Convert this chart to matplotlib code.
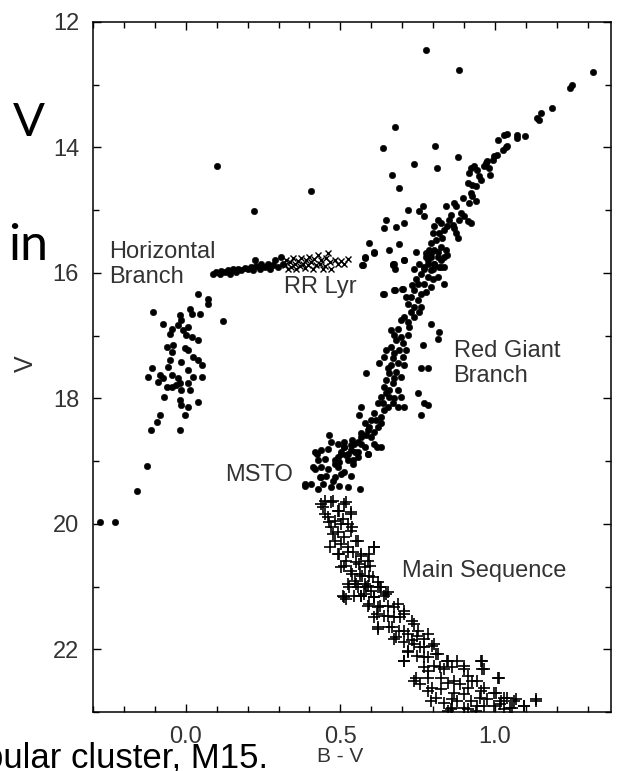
import numpy as np
import matplotlib
matplotlib.use('Agg')
import matplotlib.pyplot as plt
from matplotlib.ticker import MultipleLocator

plt.rcParams['font.family'] = ['Liberation Sans', 'DejaVu Sans']

# (B-V, V), grouped by region of the diagram
giant_upper = [
    (0.776, 12.45), (0.884, 12.76), (1.317, 12.80), (1.242, 13.05), (1.250, 13.00),
    (1.185, 13.37), (1.137, 13.53), (1.142, 13.56), (1.150, 13.45), (0.677, 13.67),
    (0.637, 14.01), (0.806, 13.97), (0.881, 14.16), (0.737, 14.26), (0.667, 14.44),
    (0.812, 14.33), (0.688, 14.65), (1.008, 13.88), (1.029, 13.80), (1.038, 13.79),
    (1.070, 13.80), (1.072, 13.85), (1.096, 13.81), (1.035, 14.00), (1.040, 13.98),
    (1.027, 14.04), (0.997, 14.14), (1.005, 14.12), (0.992, 14.20), (0.970, 14.25),
    (0.975, 14.22), (0.965, 14.30), (0.981, 14.33), (0.984, 14.44), (0.922, 14.33),
    (0.933, 14.30), (0.943, 14.36), (0.916, 14.41), (0.948, 14.46), (0.954, 14.52),
    (0.911, 14.57), (0.927, 14.60), (0.938, 14.62), (0.922, 14.73), (0.927, 14.78),
    (0.938, 14.86), (0.916, 14.89), (0.895, 14.81), (0.868, 14.89), (0.873, 14.94),
    (0.841, 14.94), (0.766, 14.94), (0.755, 15.02), (0.771, 15.10), (0.720, 15.00),
    (0.647, 15.15), (0.640, 15.29), (0.680, 15.27), (0.707, 15.20), (0.889, 15.05),
    (0.900, 15.10), (0.884, 15.15), (0.911, 15.18), (0.922, 15.21), (0.857, 15.08),
    (0.852, 15.15), (0.863, 15.24), (0.846, 15.26), (0.868, 15.29), (0.873, 15.37),
    (0.879, 15.45), (0.814, 15.15), (0.825, 15.21), (0.804, 15.26), (0.798, 15.37),
    (0.819, 15.37), (0.835, 15.31), (0.830, 15.45), (0.809, 15.47), (0.793, 15.53),
    (0.787, 15.63), (0.804, 15.63), (0.825, 15.58), (0.841, 15.63), (0.776, 15.69),
    (0.793, 15.74), (0.814, 15.74), (0.782, 15.85), (0.804, 15.85), (0.825, 15.79),
    (0.771, 15.93), (0.798, 15.93), (0.819, 15.90), (0.846, 15.71), (0.835, 15.90),
    (0.608, 15.67), (0.658, 15.63), (0.691, 15.54), (0.744, 15.66), (0.707, 15.80),
    (0.669, 15.87), (0.739, 15.93), (0.101, 14.30), (0.405, 14.70), (0.220, 15.01),
    (0.591, 15.53), (0.571, 15.87), (0.578, 15.77), (0.672, 15.85), (0.675, 15.93),
    (0.640, 16.33), (0.675, 16.27), (0.700, 16.25),
]

giant_lower = [
    (0.793, 15.69), (0.814, 15.66), (0.836, 15.74), (0.782, 15.79), (0.803, 15.85),
    (0.825, 15.90), (0.771, 15.90), (0.793, 15.95), (0.760, 16.01), (0.782, 16.06),
    (0.814, 16.06), (0.836, 16.17), (0.750, 16.17), (0.771, 16.17), (0.793, 16.22),
    (0.739, 16.27), (0.760, 16.33), (0.728, 16.38), (0.750, 16.43), (0.717, 16.49),
    (0.739, 16.54), (0.760, 16.54), (0.728, 16.62), (0.707, 16.70), (0.739, 16.70),
    (0.717, 16.78), (0.696, 16.75), (0.664, 16.91), (0.685, 16.89), (0.696, 17.02),
    (0.717, 16.99), (0.680, 17.07), (0.701, 17.12), (0.712, 17.23), (0.690, 17.23),
    (0.674, 17.28), (0.647, 17.23), (0.642, 17.34), (0.701, 17.34), (0.685, 17.44),
    (0.664, 17.47), (0.680, 17.58), (0.658, 17.60), (0.696, 17.66), (0.647, 17.71),
    (0.669, 17.76), (0.685, 17.87), (0.642, 17.82), (0.631, 17.98), (0.658, 17.98),
    (0.674, 18.00), (0.621, 18.08), (0.653, 18.14), (0.685, 18.14), (0.707, 18.14),
    (0.610, 18.24), (0.631, 18.30), (0.599, 18.35), (0.578, 18.40), (0.588, 18.51),
    (0.621, 18.46), (0.567, 18.62), (0.599, 18.62), (0.545, 18.72), (0.513, 18.78),
    (0.535, 18.83), (0.502, 18.88), (0.492, 18.94), (0.481, 19.04), (0.524, 18.99),
    (0.556, 18.94), (0.588, 18.88),
    (0.669, 15.85), (0.707, 15.79), (0.610, 15.69), (0.578, 15.74), (0.572, 15.87),
    (0.637, 16.33), (0.674, 16.27), (0.701, 16.25), (0.793, 16.81), (0.819, 16.94),
    (0.814, 17.05), (0.766, 17.15), (0.760, 17.52), (0.782, 17.52), (0.750, 17.92),
    (0.771, 18.08), (0.782, 18.11), (0.760, 18.27), (0.561, 18.27), (0.583, 17.60),
    (0.626, 17.44),
    (0.776, 15.74), (0.755, 15.85), (0.798, 16.09), (0.744, 16.09), (0.733, 16.19),
    (0.776, 16.30), (0.712, 16.38), (0.755, 16.62), (0.723, 16.86), (0.674, 16.99),
    (0.664, 17.18), (0.707, 17.47), (0.669, 17.36), (0.653, 17.52), (0.674, 17.68),
    (0.658, 17.87), (0.637, 18.08), (0.669, 18.08), (0.642, 18.19), (0.615, 18.35),
    (0.583, 18.59), (0.556, 18.70), (0.610, 18.54), (0.518, 18.91), (0.540, 19.04),
    (0.497, 19.02), (0.578, 18.78), (0.631, 18.40), (0.696, 17.98), (0.647, 17.92),
]

turnoff = [
    (0.470, 18.70), (0.492, 18.72), (0.513, 18.70), (0.535, 18.75), (0.567, 18.72),
    (0.610, 18.72), (0.632, 18.78), (0.438, 18.83), (0.417, 18.86), (0.460, 18.80),
    (0.503, 18.86), (0.524, 18.88), (0.556, 18.86), (0.589, 18.88), (0.427, 18.99),
    (0.449, 18.96), (0.481, 18.99), (0.438, 19.09), (0.417, 19.12), (0.460, 19.12),
    (0.492, 19.09), (0.513, 19.17), (0.535, 19.23), (0.433, 19.25), (0.454, 19.23),
    (0.481, 19.25), (0.443, 19.36), (0.406, 19.36), (0.384, 19.36), (0.470, 19.41),
    (0.497, 19.39), (0.524, 19.41), (0.562, 19.44), (0.427, 19.44), (0.540, 18.99),
    (0.546, 18.86), (0.385, 19.39), (0.462, 18.59), (0.423, 18.88), (0.410, 19.10),
    (0.436, 19.26), (0.475, 19.31), (0.501, 19.20), (0.513, 18.78), (0.539, 18.67),
    (0.565, 18.56), (0.591, 18.46), (0.617, 18.78), (0.565, 18.14),
]

blue_hb = [
    (0.040, 16.33), (0.072, 16.41), (0.072, 16.49), (-0.107, 16.62), (-0.073, 16.81),
    (-0.046, 16.89), (-0.019, 16.67), (-0.014, 16.75), (0.013, 16.57), (0.019, 16.65),
    (0.045, 16.65), (-0.024, 16.83), (-0.008, 16.91), (0.008, 16.86), (0.019, 17.02),
    (0.040, 17.07), (0.002, 16.99), (-0.051, 16.97), (-0.062, 17.18), (-0.041, 17.15),
    (-0.046, 17.26), (-0.003, 17.20), (0.008, 17.23), (-0.014, 17.42), (0.024, 17.34),
    (0.040, 17.39), (0.051, 17.47), (-0.051, 17.39), (-0.057, 17.50), (-0.110, 17.52),
    (-0.121, 17.66), (-0.084, 17.63), (-0.073, 17.68), (-0.046, 17.63), (-0.024, 17.68),
    (-0.019, 17.76), (0.008, 17.55), (0.024, 17.66), (0.051, 17.66), (-0.062, 17.82),
    (-0.046, 17.82), (-0.030, 17.79), (-0.014, 17.87), (0.008, 17.76), (0.013, 17.87),
    (-0.089, 17.74), (-0.070, 17.98), (-0.019, 18.03), (-0.014, 18.11), (0.008, 18.14),
    (0.040, 18.06), (-0.084, 18.27), (-0.094, 18.38), (-0.003, 18.27), (-0.113, 18.51),
    (-0.019, 18.51), (0.121, 16.76), (-0.127, 19.08), (-0.159, 19.47), (-0.277, 19.97),
    (-0.229, 19.97),
]

hb_flat = [
    (0.088, 16.01), (0.099, 15.98), (0.110, 16.02), (0.115, 15.97), (0.126, 15.99),
    (0.137, 15.95), (0.142, 16.01), (0.153, 15.94), (0.164, 15.98), (0.169, 15.93),
    (0.180, 15.95), (0.191, 15.92), (0.201, 15.94), (0.212, 15.90), (0.217, 15.95),
    (0.228, 15.89), (0.223, 15.79), (0.239, 15.93), (0.244, 15.86), (0.255, 15.90),
    (0.266, 15.85), (0.271, 15.93), (0.282, 15.87), (0.287, 15.79), (0.298, 15.90),
    (0.309, 15.74), (0.314, 15.85),
]

rr_lyr = [
    (0.320, 15.87), (0.325, 15.79), (0.330, 15.93), (0.336, 15.82), (0.341, 15.90),
    (0.346, 15.77), (0.352, 15.86), (0.357, 15.93), (0.363, 15.81), (0.368, 15.89),
    (0.373, 15.76), (0.379, 15.85), (0.384, 15.92), (0.390, 15.79), (0.395, 15.87),
    (0.400, 15.74), (0.406, 15.83), (0.411, 15.93), (0.416, 15.78), (0.422, 15.87),
    (0.427, 15.71), (0.433, 15.85), (0.438, 15.79), (0.449, 15.89), (0.454, 15.77),
    (0.465, 15.83), (0.470, 15.93), (0.481, 15.79), (0.492, 15.86), (0.502, 15.81),
    (0.513, 15.85), (0.524, 15.78), (0.443, 15.93), (0.459, 15.69),
]

main_seq = [
    (0.449, 19.63), (0.470, 19.65), (0.519, 19.65), (0.443, 19.73), (0.492, 19.79),
    (0.535, 19.81), (0.460, 19.89), (0.481, 19.95), (0.508, 19.92), (0.524, 20.00),
    (0.470, 20.05), (0.492, 20.13), (0.535, 20.11), (0.556, 20.27), (0.481, 20.27),
    (0.503, 20.32), (0.524, 20.37), (0.465, 20.37), (0.492, 20.48), (0.540, 20.45),
    (0.567, 20.48), (0.610, 20.37), (0.519, 20.59), (0.551, 20.61), (0.589, 20.59),
    (0.578, 20.69), (0.503, 20.69), (0.535, 20.75), (0.562, 20.80), (0.594, 20.83),
    (0.546, 20.91), (0.578, 20.96), (0.621, 20.93), (0.529, 21.01), (0.599, 21.07),
    (0.632, 21.01), (0.653, 21.09), (0.508, 21.15), (0.567, 21.15), (0.610, 21.17),
    (0.436, 19.68), (0.475, 19.63), (0.513, 19.68), (0.449, 19.84), (0.494, 19.79),
    (0.533, 19.84), (0.462, 19.97), (0.501, 20.00), (0.539, 20.05), (0.475, 20.16),
    (0.513, 20.21), (0.552, 20.27), (0.610, 20.37),
    (0.494, 20.48), (0.526, 20.45), (0.565, 20.51), (0.591, 20.48), (0.513, 20.67),
    (0.559, 20.64), (0.597, 20.67), (0.539, 20.80), (0.571, 20.83), (0.604, 20.85),
    (0.552, 20.96), (0.584, 21.01), (0.629, 21.01), (0.513, 21.17), (0.565, 21.15),
    (0.610, 21.17), (0.649, 21.12), (0.591, 21.28), (0.629, 21.31), (0.674, 21.33),
    (0.707, 21.39), (0.617, 21.44), (0.655, 21.47), (0.694, 21.49), (0.733, 21.55),
    (0.623, 21.68), (0.668, 21.65), (0.707, 21.71), (0.752, 21.71), (0.681, 21.81),
    (0.733, 21.86), (0.771, 21.84), (0.720, 22.02), (0.758, 21.97), (0.797, 21.94),
    (0.707, 22.18), (0.771, 22.13), (0.810, 22.08), (0.848, 22.18), (0.745, 22.45),
    (0.784, 22.34), (0.823, 22.29), (0.861, 22.29), (0.900, 22.32), (0.958, 22.18),
    (0.964, 22.32), (1.009, 22.45), (0.758, 22.56), (0.797, 22.61), (0.848, 22.53),
    (0.887, 22.56), (0.926, 22.50), (0.964, 22.61), (0.810, 22.77), (0.861, 22.80),
    (0.900, 22.72), (0.951, 22.77), (1.003, 22.69), (1.029, 22.77), (1.067, 22.80),
    (0.861, 22.93), (0.913, 22.96), (0.964, 22.90), (1.016, 22.88), (1.055, 22.93),
    (1.093, 22.90), (1.132, 22.82), (0.848, 22.98), (0.939, 22.98),
    (0.524, 20.96), (0.556, 21.01), (0.588, 20.99), (0.620, 21.01), (0.545, 21.15),
    (0.577, 21.12), (0.610, 21.17), (0.642, 21.15), (0.518, 21.20), (0.588, 21.31),
    (0.620, 21.33), (0.653, 21.31), (0.685, 21.28), (0.610, 21.49), (0.642, 21.47),
    (0.674, 21.49), (0.706, 21.44), (0.739, 21.60), (0.620, 21.65), (0.658, 21.65),
    (0.690, 21.71), (0.717, 21.76), (0.749, 21.79), (0.782, 21.76), (0.674, 21.84),
    (0.706, 21.89), (0.739, 21.92), (0.771, 21.97), (0.803, 21.92), (0.717, 22.05),
    (0.749, 22.10), (0.782, 22.13), (0.814, 22.08), (0.846, 22.18), (0.706, 22.18),
    (0.771, 22.29), (0.803, 22.26), (0.835, 22.32), (0.878, 22.18), (0.900, 22.26),
    (0.954, 22.18), (0.959, 22.32), (1.013, 22.45), (0.739, 22.50), (0.782, 22.45),
    (0.825, 22.45), (0.868, 22.50), (0.911, 22.42), (0.943, 22.50), (0.782, 22.66),
    (0.825, 22.64), (0.868, 22.69), (0.911, 22.61), (0.954, 22.66), (0.997, 22.69),
    (1.040, 22.77), (0.792, 22.82), (0.835, 22.85), (0.878, 22.82), (0.921, 22.82),
    (0.975, 22.80), (1.018, 22.82), (1.061, 22.82), (1.093, 22.90), (1.131, 22.80),
    (0.857, 22.96), (0.900, 22.93), (0.943, 22.90), (0.997, 22.90), (1.029, 22.96),
    (1.050, 22.93),
]

labels = ['Horizontal', 'Branch', 'RR Lyr', 'Red Giant', 'Branch', 'MSTO', 'Main Sequence']
label_pos = [(-0.249, 15.76), (-0.249, 16.16), (0.316, 16.32), (0.866, 17.34),
             (0.866, 17.74), (0.126, 19.31), (0.698, 20.84)]

dots = np.array(giant_upper + giant_lower + turnoff + blue_hb + hb_flat)
crosses = np.array(main_seq)
rr = np.array(rr_lyr)

fig = plt.figure(figsize=(6.25, 7.71), dpi=100)
ax = fig.add_axes([93/625, 1-712/771, (611-93)/625, (712-22)/771])

ax.plot(dots[:, 0], dots[:, 1], 'o', ms=4.6, color='black', mew=0.4)
ax.plot(crosses[:, 0], crosses[:, 1], '+', ms=8.5, mew=1.2, color='black')
ax.plot(rr[:, 0], rr[:, 1], 'x', ms=3.8, mew=1.0, color='black')

for txt, (x, y) in zip(labels, label_pos):
    ax.text(x, y, txt, fontsize=17, color='#333333', va='baseline', ha='left')

ax.set_xlim(-0.3, 1.375)
ax.set_ylim(23, 12)
ax.xaxis.set_major_locator(MultipleLocator(0.5))
ax.xaxis.set_minor_locator(MultipleLocator(0.1))
ax.yaxis.set_major_locator(MultipleLocator(2))
ax.yaxis.set_minor_locator(MultipleLocator(1))
ax.tick_params(which='both', direction='in', top=True, right=True,
               labelsize=17, labelcolor='#333333', pad=10, width=1)
ax.tick_params(which='major', length=6)
ax.tick_params(which='minor', length=4)
for s in ax.spines.values():
    s.set_linewidth(1.1)

ax.set_xlabel('B - V', fontsize=15, color='#333333')
ax.xaxis.set_label_coords(0.477, -0.051)
ax.set_ylabel('V', fontsize=18, color='#333333')
ax.yaxis.set_label_coords(-0.130, 0.505)
ax.yaxis.label.set_va('center')

# fragments of the slide text around the figure
fig.text(29/625, 1-123/771, 'V', ha='center', va='center', fontsize=34, family='Lato')
fig.text(8/625, 1-260/771, 'in', ha='left', va='baseline', fontsize=36, family='Lato')
fig.text(-16/625, 1-767/771, 'bular cluster, M15.', ha='left', va='baseline',
         fontsize=25, family='Liberation Sans')

fig.savefig('out.png', dpi=100)
